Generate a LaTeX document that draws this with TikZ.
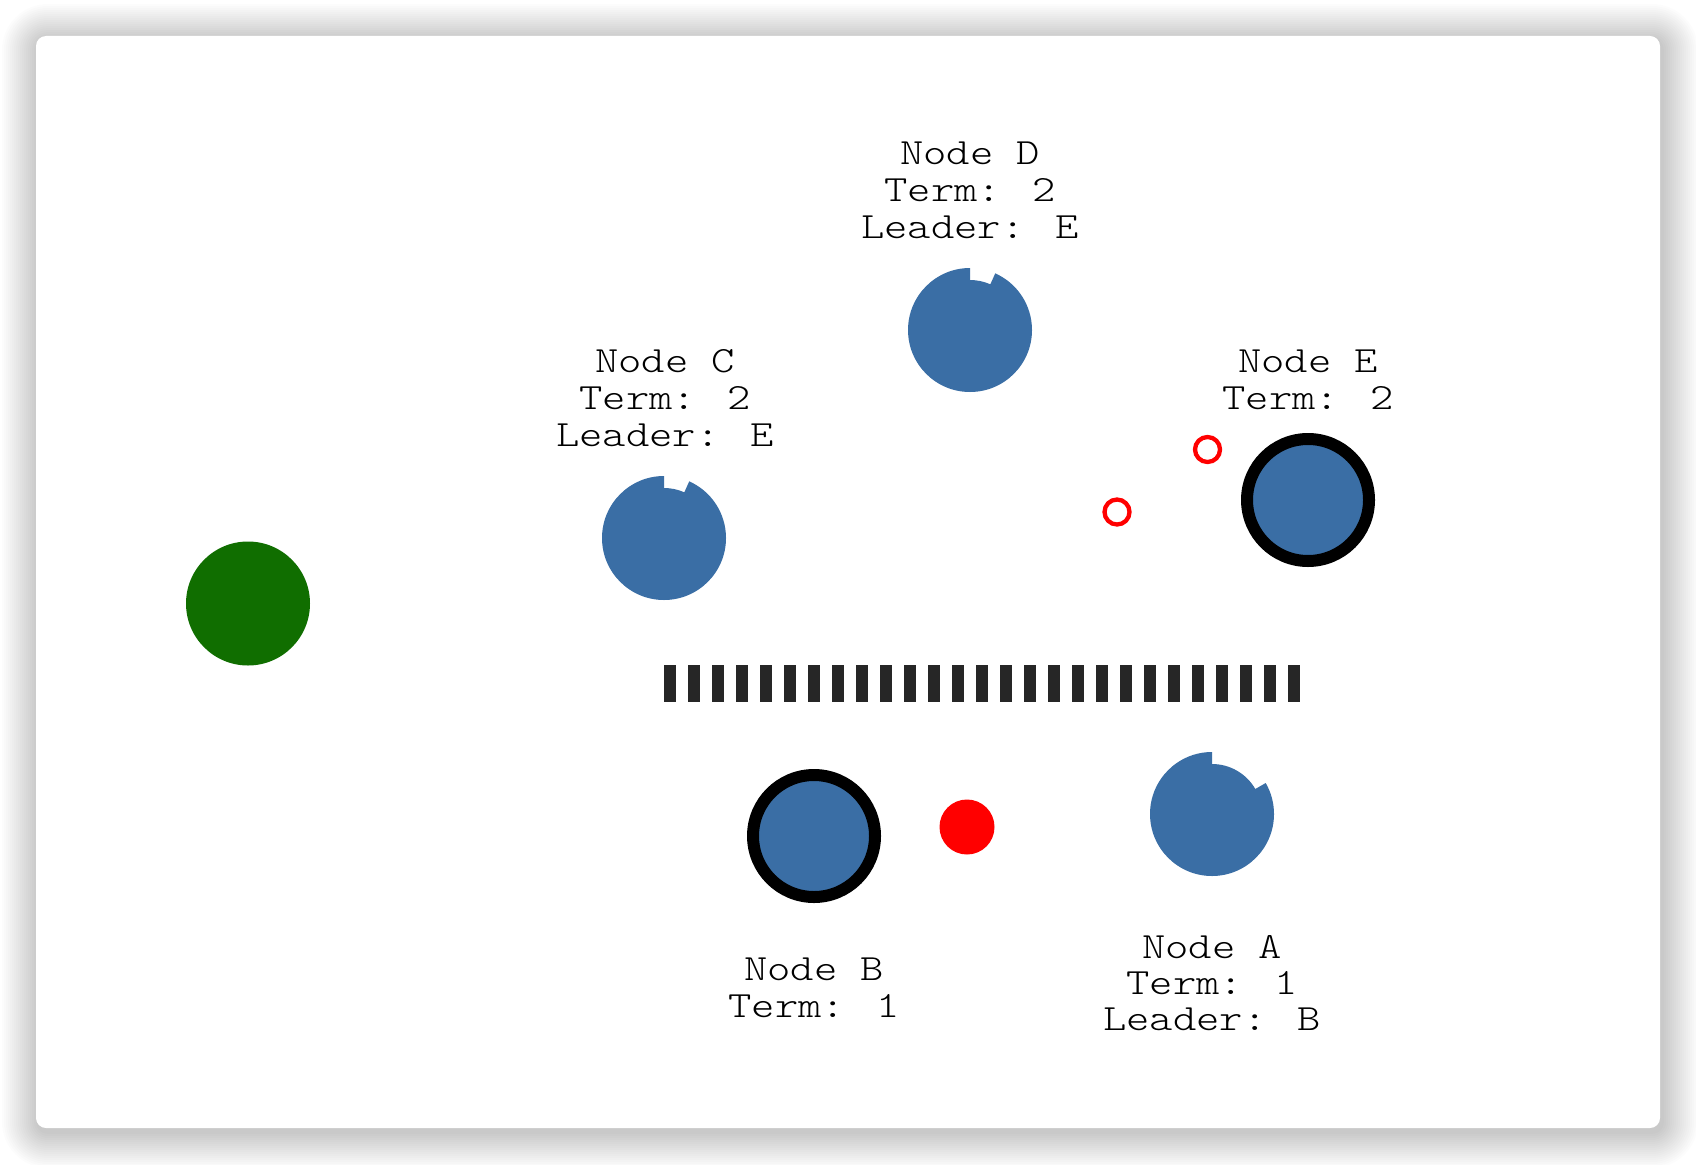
\documentclass[tikz,border=0pt]{standalone}
\usepackage{fontspec}
\newfontfamily\lblfont[FakeStretch=1.2]{Latin Modern Mono Light}
\definecolor{nodeblue}{RGB}{58,110,165}
\definecolor{leafgreen}{RGB}{16,110,0}
\definecolor{barcol}{RGB}{38,38,38}
\definecolor{msgred}{RGB}{255,0,0}
\tikzset{
  lbl/.style={inner sep=0pt, anchor=base, font=\lblfont\fontsize{37}{37}\selectfont},
  ringnode/.style={fill=nodeblue, draw=black, line width=12pt},
  msgopen/.style={draw=msgred, line width=4.3pt},
}
\begin{document}
\begin{tikzpicture}[x=1pt,y=-1pt]
\useasboundingbox (0,0) rectangle (1696,1164);
\fill[white] (0,0) rectangle (1696,1164);
% shadow
\foreach \i in {18,17,...,1}{
  \fill[black, opacity=0.011, rounded corners={10pt+2*\i pt}]
    ({36-2*\i+2},{36-2*\i+4}) rectangle ({1660+2*\i+2},{1128+2*\i+4});
}
% card
\fill[white, rounded corners=10pt] (36,36) rectangle (1660,1128);

% coordinates of nodes
\coordinate (G) at (248,603.5);
\coordinate (C) at (664,538);
\coordinate (D) at (970,330);
\coordinate (E) at (1308,500);
\coordinate (B) at (814,836);
\coordinate (A) at (1212,814);
\coordinate (m1) at (1207.5,449.5);
\coordinate (m2) at (1117,512);
\coordinate (m3) at (967,827);
\coordinate (barL) at (664,683.5);
\coordinate (barR) at (1300,683.5);

% green node
\fill[leafgreen] (G) circle[radius=62pt];

% notched nodes
\begin{scope}[shift={(C)}]
\fill[nodeblue] (90:62pt) arc[start angle=90, end angle=426, radius=62pt]
  -- (66:50pt) arc[start angle=66, end angle=90, radius=50pt] -- cycle;
\end{scope}
\begin{scope}[shift={(D)}]
\fill[nodeblue] (90:62pt) arc[start angle=90, end angle=426, radius=62pt]
  -- (66:50pt) arc[start angle=66, end angle=90, radius=50pt] -- cycle;
\end{scope}
\begin{scope}[shift={(A)}]
\fill[nodeblue] (90:62pt) arc[start angle=90, end angle=390, radius=62pt]
  -- (30:50pt) arc[start angle=30, end angle=90, radius=50pt] -- cycle;
\end{scope}

% leader nodes with ring
\draw[ringnode] (E) circle[radius=61pt];
\draw[ringnode] (B) circle[radius=61pt];

% messages
\draw[msgopen] (m1) circle[radius=12.5pt];
\draw[msgopen] (m2) circle[radius=12.5pt];
\fill[msgred] (m3) circle[radius=27.5pt];

% partition bar
\draw[barcol, line width=37pt, dash pattern=on 12pt off 12pt] (barL) -- (barR);

% labels
\node[lbl] (d1) at (970,164) {Node D};
\node[lbl] (d2) at (970,201) {Term: 2};
\node[lbl] (d3) at (970,238) {Leader: E};

\node[lbl] (c1) at (665,372) {Node C};
\node[lbl] (c2) at (665,409) {Term: 2};
\node[lbl] (c3) at (665,446) {Leader: E};

\node[lbl] (e1) at (1308,372) {Node E};
\node[lbl] (e2) at (1308,409) {Term: 2};

\node[lbl] (b1) at (814,980) {Node B};
\node[lbl] (b2) at (814,1017) {Term: 1};

\node[lbl] (a1) at (1212,958) {Node A};
\node[lbl] (a2) at (1212,994) {Term: 1};
\node[lbl] (a3) at (1212,1030) {Leader: B};
\end{tikzpicture}
\end{document}
